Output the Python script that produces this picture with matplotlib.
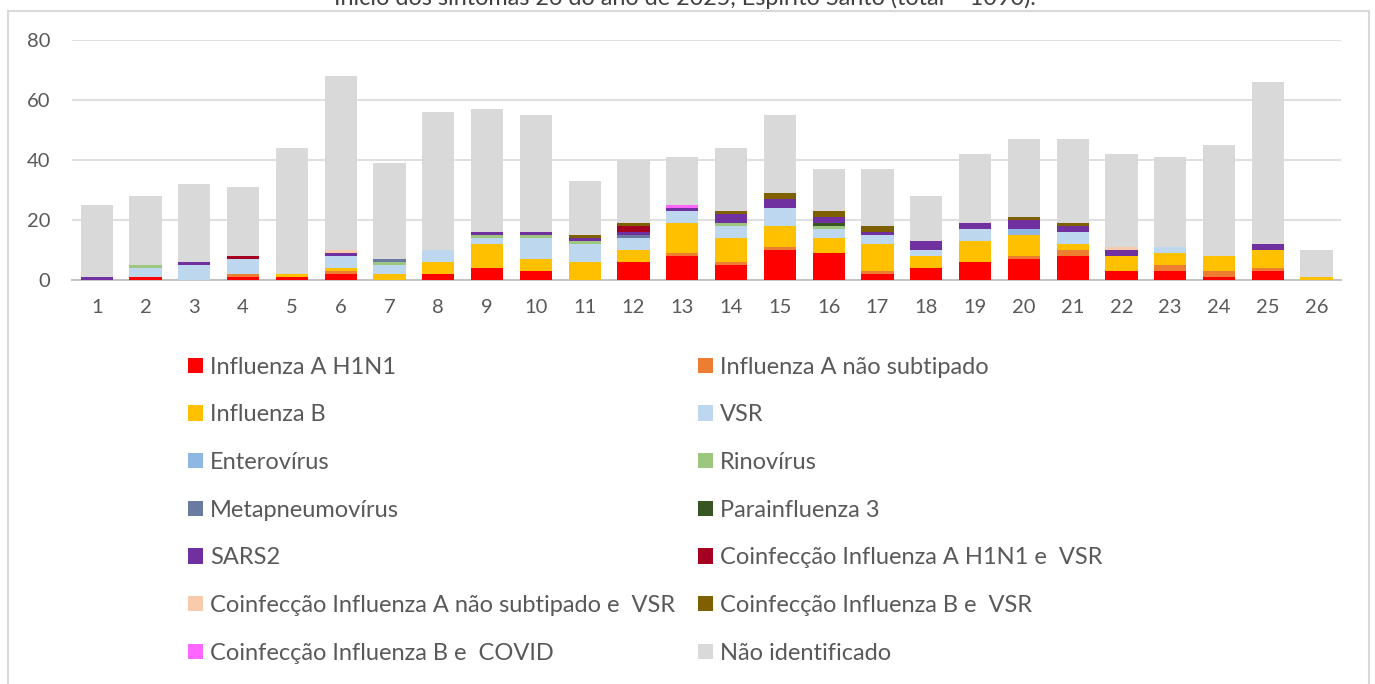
import numpy as np
import matplotlib
matplotlib.use('Agg')
import matplotlib.pyplot as plt
from matplotlib.patches import Rectangle

plt.rcParams['font.family'] = ['Lato', 'DejaVu Sans']

# semanas epidemiologicas
weeks = [str(i) for i in range(1, 27)]

h1n1        = [0,1,0,1,1,2,0,2,4,3,0,6,8,5,10,9,2,4,6,7,8,3,3,1,3,0]
a_nao_sub   = [0,0,0,1,0,1,0,0,0,0,0,0,1,1,1,0,1,0,0,1,2,0,2,2,1,0]
flu_b       = [0,0,0,0,1,1,2,4,8,4,6,4,10,8,7,5,9,4,7,7,2,5,4,5,6,1]
vsr         = [0,3,5,5,0,4,3,4,2,7,6,4,4,4,6,3,3,2,4,0,4,0,2,0,0,0]
entero      = [0,0,0,0,0,0,0,0,0,0,0,0,0,0,0,0,0,0,0,2,0,0,0,0,0,0]
rino        = [0,1,0,0,0,0,1,0,1,1,1,0,0,1,0,1,0,0,0,0,0,0,0,0,0,0]
metapneumo  = [0,0,0,0,0,0,1,0,0,0,0,1,0,0,0,0,0,0,0,0,0,0,0,0,0,0]
parainf3    = [0,0,0,0,0,0,0,0,0,0,0,0,0,0,0,1,0,0,0,0,0,0,0,0,0,0]
sars2       = [1,0,1,0,0,1,0,0,1,1,1,1,1,3,3,2,1,3,2,3,2,2,0,0,2,0]
co_h1n1_vsr = [0,0,0,1,0,0,0,0,0,0,0,2,0,0,0,0,0,0,0,0,0,0,0,0,0,0]
co_ans_vsr  = [0,0,0,0,0,1,0,0,0,0,0,0,0,0,0,0,0,0,0,0,0,1,0,0,0,0]
co_b_vsr    = [0,0,0,0,0,0,0,0,0,0,1,1,0,1,2,2,2,0,0,1,1,0,0,0,0,0]
co_b_covid  = [0,0,0,0,0,0,0,0,0,0,0,0,1,0,0,0,0,0,0,0,0,0,0,0,0,0]
nao_ident   = [24,23,26,23,42,58,32,46,41,39,18,21,16,21,26,14,19,15,23,26,28,31,30,37,54,9]

series = [
    ('Influenza A H1N1', h1n1, '#FF0000'),
    ('Influenza A não subtipado', a_nao_sub, '#ED7D31'),
    ('Influenza B', flu_b, '#FFC000'),
    ('VSR', vsr, '#BDD7EE'),
    ('Enterovírus', entero, '#8EB8E3'),
    ('Rinovírus', rino, '#9DC67F'),
    ('Metapneumovírus', metapneumo, '#6A7BA2'),
    ('Parainfluenza 3', parainf3, '#375623'),
    ('SARS2', sars2, '#7030A0'),
    ('Coinfecção Influenza A H1N1 e  VSR', co_h1n1_vsr, '#A50021'),
    ('Coinfecção Influenza A não subtipado e  VSR', co_ans_vsr, '#F8CBAD'),
    ('Coinfecção Influenza B e  VSR', co_b_vsr, '#7F6000'),
    ('Coinfecção Influenza B e  COVID', co_b_covid, '#FF66FF'),
    ('Não identificado', nao_ident, '#D9D9D9'),
]

W, H = 1375, 684
fig = plt.figure(figsize=(W/100, H/100), dpi=100)
ax = fig.add_axes([72.3/W, 1-280/H, (1341-72.3)/W, 240/H])

x = np.arange(1, 27)
bottom = np.zeros(26)
handles = []
for name, vals, col in series:
    v = np.array(vals, dtype=float)
    b = ax.bar(x, v, width=0.66, bottom=bottom, color=col, label=name, zorder=3)
    handles.append(b)
    bottom += v

ax.set_xlim(0.5, 26.5)
ax.set_ylim(0, 80)
ax.set_yticks([0, 20, 40, 60, 80])
ax.set_xticks(x)
ax.set_xticklabels(weeks)
ax.grid(axis='y', color='#D9D9D9', linewidth=1.2, zorder=0)
ax.set_axisbelow(True)
for s in ['top', 'right', 'left']:
    ax.spines[s].set_visible(False)
ax.spines['bottom'].set_color('#BFBFBF')
ax.spines['bottom'].set_linewidth(1.3)
ax.tick_params(axis='both', length=0, labelsize=14.5, labelcolor='#595959')
ax.tick_params(axis='y', pad=16)
ax.tick_params(axis='x', pad=14)

# legenda em duas colunas (ordem por linha como no Excel)
col1 = [handles[i] for i in range(0, 14, 2)]
col2 = [handles[i] for i in range(1, 14, 2)]
lab1 = [series[i][0] for i in range(0, 14, 2)]
lab2 = [series[i][0] for i in range(1, 14, 2)]
yc = 1 - 510.25/H
for hs, ls, x0 in [(col1, lab1, 188.3), (col2, lab2, 698.0)]:
    fig.legend(hs, ls, loc='center left', bbox_to_anchor=(x0/W, yc),
               frameon=False, fontsize=17, labelcolor='#595959',
               handlelength=0.62, handleheight=0.62, handletextpad=0.3,
               labelspacing=1.13, borderpad=0, borderaxespad=0)

# moldura do grafico
fig.patches.append(Rectangle((8/W, -0.05), (1369-8)/W, 1.05-11/H, transform=fig.transFigure,
                             fill=False, edgecolor='#D9D9D9', linewidth=1.5))

fig.text(685/W, 1-5/H, 'Início dos sintomas 26 do ano de 2025, Espírito Santo (total = 1090).',
         ha='center', va='baseline', fontsize=16.8, color='#404040')

fig.savefig('out.png', dpi=100)
